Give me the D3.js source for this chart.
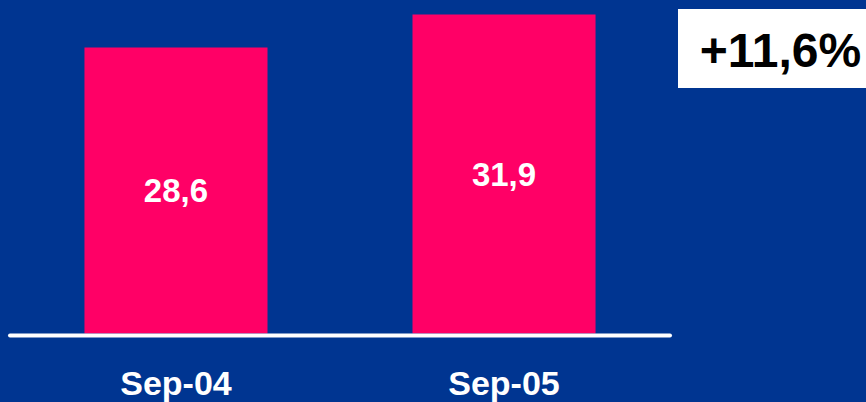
<!DOCTYPE html>
<html>
<head>
<meta charset="utf-8">
<script src="https://cdn.jsdelivr.net/npm/d3@7"></script>
<style>
  html, body { margin: 0; padding: 0; background: #003591; }
  svg { display: block; font-family: "Liberation Sans", Arial, sans-serif; font-weight: bold; }
</style>
</head>
<body>
<div id="chart"></div>
<script>
var categories = ["Sep-04", "Sep-05"];
var values = [28.6, 31.9];
var valueLabels = ["28,6", "31,9"];
var growthLabel = "+11,6%";

var width = 866, height = 402;
var baseY = 333.5;

var svg = d3.select("#chart").append("svg")
    .attr("width", width)
    .attr("height", height);

svg.append("rect")
    .attr("width", width)
    .attr("height", height)
    .attr("fill", "#003591");

var x = d3.scaleBand()
    .domain(categories)
    .range([10, 670])
    .paddingInner(0.442)
    .paddingOuter(0.227);

var y = d3.scaleLinear()
    .domain([0, 33.35])
    .range([baseY, 0]);

// bars
svg.selectAll("rect.bar")
    .data(values)
    .enter().append("rect")
    .attr("class", "bar")
    .attr("x", function(d, i){ return x(categories[i]); })
    .attr("y", function(d){ return y(d); })
    .attr("width", x.bandwidth())
    .attr("height", function(d){ return y(0) - y(d); })
    .attr("fill", "#ff0066");

// value labels, centred in the bar
svg.selectAll("text.val")
    .data(values)
    .enter().append("text")
    .attr("class", "val")
    .attr("x", function(d, i){ return x(categories[i]) + x.bandwidth() / 2; })
    .attr("y", function(d){ return (y(d) + y(0)) / 2 + 11.5; })
    .attr("text-anchor", "middle")
    .attr("fill", "#fff")
    .style("font-size", "33px")
    .text(function(d, i){ return valueLabels[i]; });

// baseline
svg.append("line")
    .attr("x1", 10)
    .attr("x2", 670)
    .attr("y1", baseY + 2)
    .attr("y2", baseY + 2)
    .attr("stroke", "#fff")
    .attr("stroke-width", 4)
    .attr("stroke-linecap", "round");

// category labels
svg.selectAll("text.cat")
    .data(categories)
    .enter().append("text")
    .attr("class", "cat")
    .attr("x", function(d){ return x(d) + x.bandwidth() / 2; })
    .attr("y", 395)
    .attr("text-anchor", "middle")
    .attr("fill", "#fff")
    .style("font-size", "34px")
    .text(function(d){ return d; });

// growth box
svg.append("rect")
    .attr("x", 678)
    .attr("y", 9)
    .attr("width", 200)
    .attr("height", 79)
    .attr("fill", "#fff");

svg.append("text")
    .attr("x", 780.5)
    .attr("y", 67)
    .attr("text-anchor", "middle")
    .attr("fill", "#000")
    .style("font-size", "48px")
    .text(growthLabel);
</script>
</body>
</html>
